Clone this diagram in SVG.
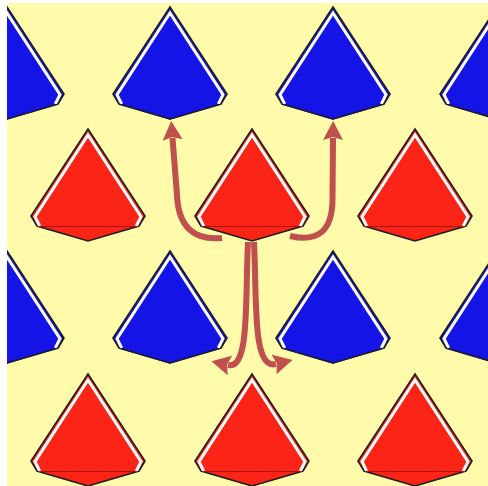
<svg xmlns="http://www.w3.org/2000/svg" xmlns:xlink="http://www.w3.org/1999/xlink" width="488" height="486" viewBox="0 0 488 486">
<style>
.body{stroke:#1e1e1e;stroke-width:1.6;stroke-linejoin:miter}
.hl{fill:none;stroke:#ffffff;stroke-width:3;stroke-linejoin:miter}
.redbase{fill:none;stroke:#a8150c;stroke-width:1.2}
.bluebase{fill:none;stroke:#1a1a50;stroke-width:1.2}
.arrow{fill:none;stroke:#c0504d;stroke-width:6;stroke-linecap:butt}
</style>
<defs>
<clipPath id="frame"><rect x="7" y="3" width="481" height="483"/></clipPath>
<g id="pyrRed">
<polygon class="body" fill="#fb2416" points="0,0 57,87 51,97 0,112 -51,97 -57,87"/>
<polyline class="hl" points="-48.3,97 -53,87.6 0,6 53,87.6 48.3,97"/>
<line class="redbase" x1="-50" y1="97.5" x2="50" y2="97.5"/>
</g>
<g id="pyrBlue">
<polygon class="body" fill="#1414e6" points="0,0 57,87 51,97 0,112 -51,97 -57,87"/>
<polyline class="hl" points="-48.3,97 -53,87.6 0,6 53,87.6 48.3,97"/>
<polyline class="bluebase" points="-51,97 0,112 51,97"/>
</g>
<marker id="ah" markerUnits="userSpaceOnUse" markerWidth="22" markerHeight="22" viewBox="0 -11 22 22" refX="2" refY="0" orient="auto">
<path d="M0,-10 L19,0 L0,10 L3,0 z" fill="#c0504d"/>
</marker>
</defs>
<rect x="0" y="0" width="488" height="486" fill="#ffffff"/>
<rect x="7" y="3" width="481" height="483" fill="#fffbab"/>
<g id="tiles" clip-path="url(#frame)">
<g id="blue-a1"><use xlink:href="#pyrBlue" x="7" y="7"/></g>
<g id="blue-a2"><use xlink:href="#pyrBlue" x="170" y="7"/></g>
<g id="blue-a3"><use xlink:href="#pyrBlue" x="333" y="7"/></g>
<g id="blue-a4"><use xlink:href="#pyrBlue" x="497" y="7"/></g>
<g id="red-b1"><use xlink:href="#pyrRed" x="88" y="129"/></g>
<g id="red-b2"><use xlink:href="#pyrRed" x="252" y="129"/></g>
<g id="red-b3"><use xlink:href="#pyrRed" x="415" y="129"/></g>
<g id="blue-c1"><use xlink:href="#pyrBlue" x="7" y="251"/></g>
<g id="blue-c2"><use xlink:href="#pyrBlue" x="170" y="251"/></g>
<g id="blue-c3"><use xlink:href="#pyrBlue" x="333" y="251"/></g>
<g id="blue-c4"><use xlink:href="#pyrBlue" x="497" y="251"/></g>
<g id="red-d1"><use xlink:href="#pyrRed" x="88" y="374"/></g>
<g id="red-d2"><use xlink:href="#pyrRed" x="252" y="374"/></g>
<g id="red-d3"><use xlink:href="#pyrRed" x="415" y="374"/></g>
</g>
<g id="connectors">
<path class="arrow" marker-end="url(#ah)" d="M222,238 Q179,242 177,195 L172.5,138"/>
<path class="arrow" marker-end="url(#ah)" d="M290,236 Q332,246 332.5,200 L333,138"/>
<path class="arrow" marker-end="url(#ah)" d="M248,242 C245,300 250,370 228,365"/>
<path class="arrow" marker-end="url(#ah)" d="M254,242 C257,300 252,370 276,364"/>
</g>
</svg>
